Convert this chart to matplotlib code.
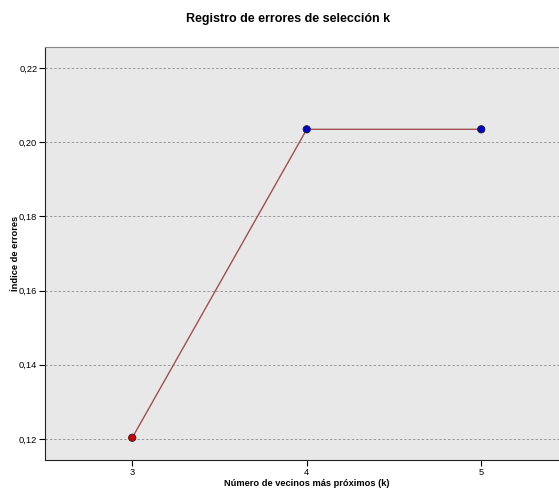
import matplotlib.pyplot as plt

plt.rcParams["font.family"] = ["Liberation Sans", "DejaVu Sans"]

k_values = [3, 4, 5]
error_rate = [0.1203, 0.2035, 0.2035]
point_colors = ["#cc0000", "#0000cc", "#0000cc"]
y_ticks = [0.12, 0.14, 0.16, 0.18, 0.20, 0.22]
y_tick_labels = ["0,12", "0,14", "0,16", "0,18", "0,20", "0,22"]

fig = plt.figure(figsize=(5.59, 4.90), dpi=100)
ax = fig.add_axes([45 / 559, 30 / 490, 523.5 / 559, 413 / 490])
ax.set_facecolor("#e8e8e8")

ax.plot(k_values, error_rate, color="#a05050", lw=1, zorder=2)
ax.scatter(k_values, error_rate, c=point_colors, s=28, edgecolors="#222222",
           linewidths=0.6, zorder=3)

ax.set_xlim(2.5, 5.5)
ax.set_ylim(0.1143, 0.2257)
ax.set_xticks(k_values)
ax.set_xticklabels([str(k) for k in k_values], fontsize=6.7)
ax.set_yticks(y_ticks)
ax.set_yticklabels(y_tick_labels, fontsize=6.7)
ax.yaxis.grid(True, linestyle=(0, (2.5, 2)), color="#999999", lw=0.7)
ax.set_axisbelow(True)
ax.tick_params(length=4, width=0.8, pad=1.5)

ax.spines["top"].set_color("#888888")
ax.spines["right"].set_visible(False)
ax.spines["left"].set_color("#222222")
ax.spines["bottom"].set_color("#222222")

ax.set_xlabel("Número de vecinos más próximos (k)", fontsize=6.7, fontweight="bold", labelpad=2)
ax.set_ylabel("Índice de errores", fontsize=6.7, fontweight="bold", labelpad=-1)
fig.suptitle("Registro de errores de selección k", fontsize=9, fontweight="bold",
             x=0.515, y=0.973)

fig.savefig("out.png", dpi=100)
